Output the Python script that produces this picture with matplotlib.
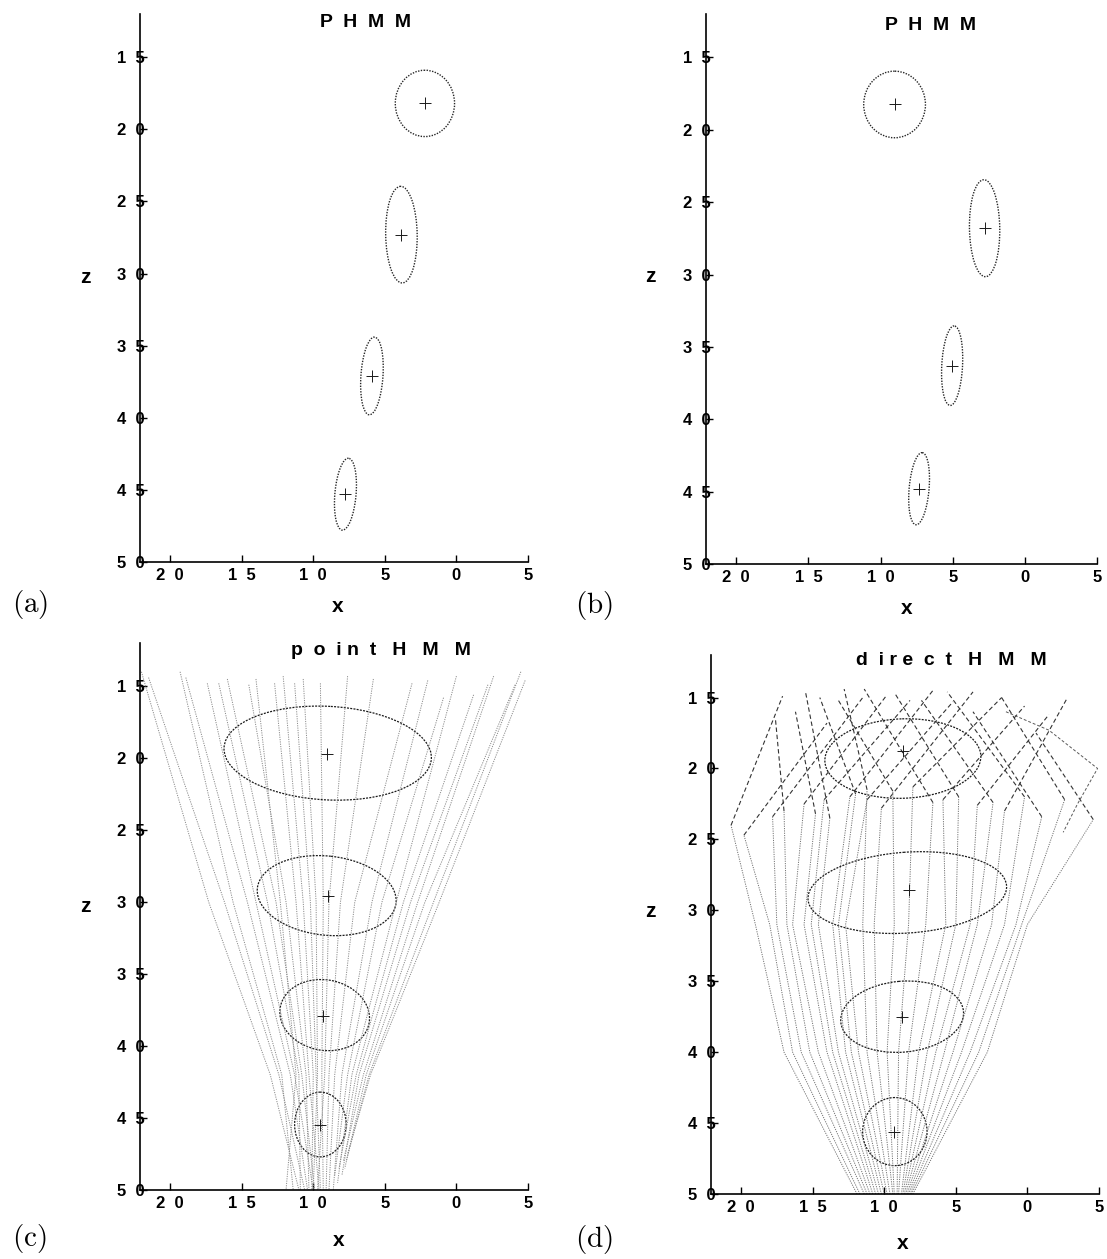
import matplotlib
matplotlib.use('Agg')
import matplotlib.pyplot as plt
from matplotlib.patches import Ellipse

plt.rcParams['mathtext.fontset'] = 'cm'

# ticks shared by all four panels
x_ticks = [20, 15, 10, 5, 0, -5]
x_tick_labels = ['2  0', '1  5', '1  0', '5', '0', '5']
z_ticks = [15, 20, 25, 30, 35, 40, 45, 50]
z_tick_labels = ['1  5', '2  0', '2  5', '3  0', '3  5', '4  0', '4  5', '5  0']

# (a) PHMM ellipses
a_cx = [2.2, 3.84, 5.9, 7.75]
a_cz = [18.2, 27.3, 37.1, 45.3]
a_w = [4.14, 2.2, 1.54, 1.48]
a_h = [4.6, 6.7, 5.4, 5.0]
a_ang = [0, 1, -4, -5]

# (b) PHMM ellipses
b_cx = [9.03, 2.79, 5.04, 7.33]
b_cz = [18.25, 26.8, 36.3, 44.8]
b_w = [4.28, 2.1, 1.44, 1.38]
b_h = [4.6, 6.7, 5.5, 5.0]
b_ang = [0, 1, -3, -5]

# (c) point HMM ellipses
c_cx = [8.99, 9.06, 9.2, 9.5]
c_cz = [19.65, 29.55, 37.85, 45.45]
c_px = [9.07, 9.0, 9.33, 9.5]
c_pz = [19.7, 29.6, 37.9, 45.5]
c_w = [14.5, 9.74, 6.3, 3.6]
c_h = [6.5, 5.5, 4.9, 4.5]
c_ang = [-3, -6, -10, 0]

# (c) trajectories: top point, x at z = 30 and 42, bottom point
c_top_x = [22.0, 21.5, 19.3, 18.9, 17.4, 16.6, 16.0, 14.5, 14.0, 12.7, 12.1, 11.3, 10.7,
           9.5, 7.6, 5.8, 3.1, 2.0, 0.9, 0.0, -1.2, -2.2, -2.6, -4.1, -4.5, -4.8]
c_top_z = [14.0, 14.4, 14.0, 14.4, 14.8, 14.8, 14.5, 14.9, 14.5, 14.8, 14.3, 14.8, 14.5,
           14.8, 14.3, 14.5, 14.8, 14.6, 15.8, 14.3, 15.6, 14.9, 14.3, 14.9, 14.0, 14.6]
c_x30 = [17.3, 16.2, 15.6, 14.6, 14.0, 13.2, 12.6, 11.9, 12.3, 11.2, 10.7, 10.2, 9.8,
         9.3, 8.9, 8.1, 7.1, 5.9, 5.2, 4.2, 3.7, 3.2, 2.7, 2.2, 1.6, 1.2]
c_x42 = [13.0, 12.4, 12.2, 11.6, 11.3, 11.0, 10.8, 10.5, 11.2, 10.3, 10.0, 9.8, 9.7,
         9.4, 9.2, 8.9, 8.5, 8.0, 7.6, 7.3, 7.0, 6.8, 6.5, 6.3, 6.1, 6.0]
c_bot_x = [11.0, 10.6, 11.4, 10.4, 10.0, 10.9, 9.9, 10.3, 11.9, 9.6, 10.1, 9.5, 10.0,
           9.3, 9.7, 9.1, 8.9, 8.6, 8.5, 8.3, 8.2, 8.0, 7.9, 7.8, 7.7, 7.6]
c_bot_z = [50, 50, 50, 50, 50, 50, 50, 50, 50, 50, 50, 50, 50,
           50, 50, 50, 50, 50, 49.0, 49.5, 48.5, 49.0, 48.0, 48.5, 48.0, 47.5]

# (d) direct HMM ellipses
d_cx = [8.7, 8.39, 8.75, 9.26]
d_cz = [19.3, 28.75, 37.5, 45.6]
d_px = [8.7, 8.26, 8.77, 9.3]
d_pz = [18.8, 28.6, 37.5, 45.6]
d_w = [10.9, 13.9, 8.6, 4.5]
d_h = [5.6, 5.7, 5.0, 4.8]
d_ang = [2, 4, 5, 0]

# (d) trajectories: x at z = 50, 40, 31, then knee and top end
d_x50 = [11.9, 11.7, 11.4, 11.2, 11.0, 10.8, 10.6, 10.4, 10.2, 10.0, 9.8, 9.6, 9.4,
         9.3, 9.1, 9.0, 8.8, 8.7, 8.6, 8.5, 8.4, 8.3, 8.2, 8.1, 8.0]
d_x40 = [17.0, 16.4, 15.8, 15.2, 14.6, 14.0, 13.6, 13.2, 12.7, 12.3, 11.8, 11.2, 10.5,
         9.8, 9.0, 8.3, 7.6, 7.0, 6.4, 5.8, 5.2, 4.6, 4.0, 3.4, 2.8]
d_x31 = [19.0, 18.0, 17.5, 16.8, 16.4, 15.6, 15.1, 14.6, 13.6, 13.2, 12.7, 11.5, 10.7,
         9.3, 8.3, 7.1, 5.7, 5.0, 4.0, 3.5, 2.5, 1.6, 0.8, 0.4, 0.0]
d_knee_x = [20.7, 19.8, 17.8, 17.0, 15.6, 14.8, 14.2, 13.8, 12.4, 12.0, 11.2, 11.2, 10.2,
            9.4, 8.0, 6.6, 5.9, 4.8, 3.5, 2.4, 1.6, 0.2, -1.0, -2.6, -4.6]
d_knee_z = [24.0, 24.7, 23.4, 23.0, 22.5, 23.2, 22.2, 23.5, 22.0, 21.8, 22.2, 21.5, 22.8,
            21.6, 21.3, 22.4, 22.2, 22.0, 22.6, 22.4, 23.0, 22.0, 23.4, 22.2, 23.6]
d_top_x = [17.1, 14.0, 11.5, 17.6, 9.8, 16.2, 8.2, 15.5, 6.6, 14.5, 5.2, 12.8, 3.8,
           13.2, 1.8, 11.4, 0.2, 9.2, -1.5, 7.4, -2.8, 5.6, 3.8, 1.8, -0.6]
d_top_z = [14.9, 16.8, 15.0, 16.5, 14.8, 16.0, 15.2, 14.6, 14.5, 15.0, 15.3, 14.4, 14.6,
           15.2, 15.0, 14.4, 15.6, 14.8, 16.2, 15.2, 15.0, 14.6, 16.0, 15.0, 17.5]
d_side_x = [1.5, -1.5, -4.9, -3.5, -2.5]
d_side_z = [16.0, 17.3, 20.0, 22.5, 24.5]

fig = plt.figure(figsize=(11.07, 12.59), dpi=100)
W, H = 1107.0, 1259.0
sans = 'Liberation Sans'


def make_axes(left, right, top, bottom):
    return fig.add_axes([left / W, 1 - bottom / H, (right - left) / W, (bottom - top) / H])


def setup(ax, title, tpos, label, lpos, xlpos, zlpos):
    ax.set_xlim(22.1, -5)
    ax.set_ylim(50, 12)
    for s in ['top', 'right']:
        ax.spines[s].set_visible(False)
    for s in ['left', 'bottom']:
        ax.spines[s].set_linewidth(1.2)
    ax.set_xticks(x_ticks)
    ax.set_xticklabels(x_tick_labels, fontweight='bold', fontsize=12, family=sans)
    ax.set_yticks(z_ticks)
    ax.set_yticklabels(z_tick_labels, fontweight='bold', fontsize=12, family=sans)
    ax.tick_params(axis='both', direction='in', length=5, width=1.0)
    ax.tick_params(axis='y', pad=-3.4)
    ax.tick_params(axis='x', pad=4)
    ax.text(tpos[0], tpos[1], title, transform=ax.transAxes, ha='center', va='center',
            fontsize=14, fontweight='bold', family=sans)
    ax.text(xlpos[0], xlpos[1], 'x', transform=ax.transAxes, ha='center', va='center',
            fontsize=15, fontweight='bold', family=sans)
    ax.text(zlpos[0], zlpos[1], 'z', transform=ax.transAxes, ha='center', va='center',
            fontsize=15, fontweight='bold', family=sans)
    ax.text(lpos[0], lpos[1], r'$\mathrm{(' + label + ')}$', transform=ax.transAxes,
            ha='left', va='center', fontsize=21)


def draw_ellipses(ax, cx, cz, w, h, ang, px, pz, ls, lw, col):
    for i in range(len(cx)):
        ax.add_patch(Ellipse((cx[i], cz[i]), w[i], h[i], angle=ang[i], fill=False,
                             ls=ls, lw=lw, ec=col))
    ax.plot(px, pz, '+', color='0.1', ms=8, mew=0.7, ls='none')


# (a)
ax_a = make_axes(140, 528, 14, 562)
setup(ax_a, 'P  H  M  M', (0.58, 0.985), 'a', (-0.33, -0.078), (0.51, -0.082), (-0.142, 0.52))
draw_ellipses(ax_a, a_cx, a_cz, a_w, a_h, a_ang, a_cx, a_cz, (0, (1, 1)), 1.0, '0.15')

# (b)
ax_b = make_axes(706, 1097, 14, 564)
setup(ax_b, 'P  H  M  M', (0.574, 0.979), 'b', (-0.335, -0.076), (0.512, -0.08), (-0.141, 0.522))
draw_ellipses(ax_b, b_cx, b_cz, b_w, b_h, b_ang, b_cx, b_cz, (0, (1, 1)), 1.0, '0.15')

# (c)
ax_c = make_axes(140, 528, 643, 1190)
setup(ax_c, 'p  o  i n  t   H   M   M', (0.62, 0.987), 'c', (-0.33, -0.088), (0.511, -0.092), (-0.142, 0.519))
for i in range(len(c_top_x)):
    xs = [c_top_x[i], c_x30[i], c_x42[i], c_bot_x[i]]
    zs = [c_top_z[i], 30, 42, c_bot_z[i]]
    ax_c.plot(xs, zs, color='0.55', lw=0.7, ls=(0, (1.2, 1.2)))
draw_ellipses(ax_c, c_cx, c_cz, c_w, c_h, c_ang, c_px, c_pz, (0, (1.6, 1)), 0.9, '0.1')

# (d)
ax_d = make_axes(711, 1099, 655, 1194)
setup(ax_d, 'd  i r e  c  t   H   M   M', (0.62, 0.99), 'd', (-0.35, -0.085), (0.494, -0.092), (-0.157, 0.525))
for i in range(len(d_x50)):
    xs = [d_x50[i], d_x40[i], d_x31[i], d_knee_x[i]]
    zs = [50, 40, 31, d_knee_z[i]]
    ax_d.plot(xs, zs, color='0.45', lw=0.7, ls=(0, (1.2, 1.2)))
    ax_d.plot([d_knee_x[i], d_top_x[i]], [d_knee_z[i], d_top_z[i]], color='0.2', lw=0.8,
              ls=(0, (4, 2.5)))
ax_d.plot(d_side_x, d_side_z, color='0.35', lw=0.7, ls=(0, (3, 2)))
draw_ellipses(ax_d, d_cx, d_cz, d_w, d_h, d_ang, d_px, d_pz, (0, (1.6, 1)), 0.9, '0.1')

fig.savefig('out.png', dpi=100)
